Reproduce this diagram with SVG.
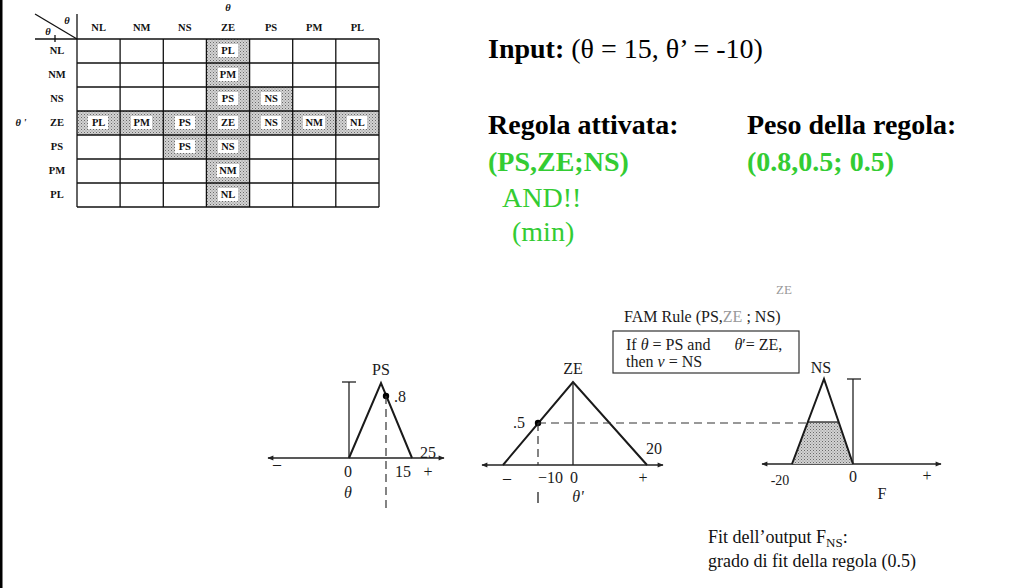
<svg xmlns="http://www.w3.org/2000/svg" width="1019" height="588" viewBox="0 0 1019 588">
<style>
.tb{font-family:"Liberation Serif",serif;font-weight:bold;font-size:10.5px;fill:#111;text-anchor:middle}
.gl{fill:none;stroke:#111;stroke-width:1.3}
.ax{fill:none;stroke:#222;stroke-width:1.3}
.tri{fill:none;stroke:#1a1a1a;stroke-width:2}
.dash{fill:none;stroke:#333;stroke-width:1.2;stroke-dasharray:8,5}
.g{font-family:"Liberation Serif",serif;font-size:16px;fill:#1a1a1a}
.fam{font-family:"Liberation Serif",serif;font-size:16px;fill:#1a1a1a}
.big{font-family:"Liberation Serif",serif;font-size:28px;fill:#000}
.grn{font-family:"Liberation Serif",serif;font-size:28px;fill:#33cc33}
.note{font-family:"Liberation Serif",serif;font-size:18px;fill:#111}
.lab{fill:#fff}
</style>
<defs>
<pattern id="stip" width="3" height="3" patternUnits="userSpaceOnUse">
<rect width="3" height="3" fill="#d2d2d2"/>
<rect x="0" y="0" width="1" height="1" fill="#6a6a6a"/>
<rect x="1.5" y="1.5" width="1" height="1" fill="#8a8a8a"/>
</pattern>
<marker id="arr" viewBox="0 0 10 10" refX="9" refY="5" markerWidth="7" markerHeight="6" orient="auto-start-reverse" markerUnits="userSpaceOnUse">
<path d="M0,1 L10,5 L0,9 z" fill="#222"/>
</marker>
</defs>
<rect x="0" y="0" width="2.5" height="588" fill="#000"/>

<g id="fam-table">
<rect x="206.4" y="39" width="43.14" height="168" fill="url(#stip)"/>
<rect x="77" y="111" width="302" height="24" fill="url(#stip)"/>
<rect x="249.6" y="87" width="43.14" height="24" fill="url(#stip)"/>
<rect x="163.3" y="135" width="43.14" height="24" fill="url(#stip)"/>
<g class="gl">
<line x1="35" y1="39" x2="379" y2="39"/>
<line x1="77" y1="14" x2="77" y2="207"/>
<line x1="35" y1="14" x2="77" y2="39"/>
<line x1="55" y1="35" x2="55" y2="42"/>
<line x1="120.1" y1="39" x2="120.1" y2="207"/>
<line x1="163.3" y1="39" x2="163.3" y2="207"/>
<line x1="206.4" y1="39" x2="206.4" y2="207"/>
<line x1="249.6" y1="39" x2="249.6" y2="207"/>
<line x1="292.7" y1="39" x2="292.7" y2="207"/>
<line x1="335.8" y1="39" x2="335.8" y2="207"/>
<line x1="379" y1="39" x2="379" y2="207"/>
<line x1="77" y1="63" x2="379" y2="63"/>
<line x1="77" y1="87" x2="379" y2="87"/>
<line x1="77" y1="111" x2="379" y2="111"/>
<line x1="77" y1="135" x2="379" y2="135"/>
<line x1="77" y1="159" x2="379" y2="159"/>
<line x1="77" y1="183" x2="379" y2="183"/>
<line x1="77" y1="207" x2="379" y2="207"/>
</g>
<g class="lab">
<rect x="218" y="44" width="20" height="13"/>
<rect x="218" y="68" width="20" height="13"/>
<rect x="218" y="92" width="20" height="13"/>
<rect x="261" y="92" width="20" height="13"/>
<rect x="88" y="116" width="20" height="13"/>
<rect x="131" y="116" width="21" height="13"/>
<rect x="175" y="116" width="20" height="13"/>
<rect x="218" y="116" width="20" height="13"/>
<rect x="261" y="116" width="20" height="13"/>
<rect x="303" y="116" width="22" height="13"/>
<rect x="347" y="116" width="20" height="13"/>
<rect x="175" y="140" width="20" height="13"/>
<rect x="218" y="140" width="20" height="13"/>
<rect x="217" y="164" width="22" height="13"/>
<rect x="218" y="188" width="20" height="13"/>
</g>
<text class="tb" x="228" y="11" font-style="italic">θ</text>
<text class="tb" x="67" y="24" font-style="italic">θ</text>
<text class="tb" x="48" y="35" font-style="italic">θ</text>
<text class="tb" x="21" y="126" font-style="italic">θ '</text>
<text class="tb" x="98.6" y="31">NL</text>
<text class="tb" x="141.7" y="31">NM</text>
<text class="tb" x="184.8" y="31">NS</text>
<text class="tb" x="228" y="31">ZE</text>
<text class="tb" x="271.1" y="31">PS</text>
<text class="tb" x="314.2" y="31">PM</text>
<text class="tb" x="357.4" y="31">PL</text>
<text class="tb" x="57" y="54">NL</text>
<text class="tb" x="57" y="78">NM</text>
<text class="tb" x="57" y="102">NS</text>
<text class="tb" x="57" y="126">ZE</text>
<text class="tb" x="57" y="150">PS</text>
<text class="tb" x="57" y="174">PM</text>
<text class="tb" x="57" y="198">PL</text>
<text class="tb" x="228" y="54">PL</text>
<text class="tb" x="228" y="78">PM</text>
<text class="tb" x="228" y="102">PS</text>
<text class="tb" x="271.1" y="102">NS</text>
<text class="tb" x="98.6" y="126">PL</text>
<text class="tb" x="141.7" y="126">PM</text>
<text class="tb" x="184.8" y="126">PS</text>
<text class="tb" x="228" y="126">ZE</text>
<text class="tb" x="271.1" y="126">NS</text>
<text class="tb" x="314.2" y="126">NM</text>
<text class="tb" x="357.4" y="126">NL</text>
<text class="tb" x="184.8" y="150">PS</text>
<text class="tb" x="228" y="150">NS</text>
<text class="tb" x="228" y="174">NM</text>
<text class="tb" x="228" y="198">NL</text>
</g>

<g id="input-text">
<text class="big" x="488" y="58"><tspan font-weight="bold">Input:</tspan> (θ = 15, θ’ = -10)</text>
</g>
<g id="rule-text">
<text class="big" x="488" y="134" font-weight="bold">Regola attivata:</text>
<text class="grn" x="488" y="171" font-weight="bold">(PS,ZE;NS)</text>
<text class="grn" x="502" y="207">AND!!</text>
<text class="grn" x="512" y="241">(min)</text>
</g>
<g id="weight-text">
<text class="big" x="747" y="134" font-weight="bold">Peso della regola:</text>
<text class="grn" x="747" y="171" font-weight="bold">(0.8,0.5; 0.5)</text>
</g>

<g id="ps-graph">
<line class="ax" x1="268" y1="458" x2="444" y2="458" marker-start="url(#arr)" marker-end="url(#arr)"/>
<line class="ax" x1="349" y1="382" x2="349" y2="458"/>
<line class="ax" x1="342" y1="382" x2="356" y2="382"/>
<polyline class="tri" points="349,458 381,383 412,458"/>
<circle cx="386" cy="396" r="3.2" fill="#000"/>
<text class="g" x="381" y="375" text-anchor="middle">PS</text>
<text class="g" x="394" y="402">.8</text>
<text class="g" x="428" y="458" text-anchor="middle">25</text>
<text class="g" x="277" y="469" text-anchor="middle">–</text>
<text class="g" x="348" y="477" text-anchor="middle">0</text>
<text class="g" x="403" y="477" text-anchor="middle">15</text>
<text class="g" x="428" y="477" text-anchor="middle">+</text>
<text class="g" x="348" y="498" text-anchor="middle" font-style="italic">θ</text>
</g>

<g id="ze-graph">
<line class="ax" x1="482" y1="465" x2="663" y2="465" marker-start="url(#arr)" marker-end="url(#arr)"/>
<polyline class="tri" points="503,465 573,382 647,465"/>
<line class="ax" x1="573" y1="382" x2="573" y2="465"/>
<circle cx="538" cy="423" r="3.2" fill="#000"/>
<text class="g" x="573" y="374" text-anchor="middle">ZE</text>
<text class="g" x="519" y="428" text-anchor="middle">.5</text>
<text class="g" x="654" y="454" text-anchor="middle">20</text>
<text class="g" x="507" y="483" text-anchor="middle">–</text>
<text class="g" x="563" y="483" text-anchor="end">−10</text>
<text class="g" x="574" y="483" text-anchor="middle">0</text>
<text class="g" x="643" y="483" text-anchor="middle">+</text>
<text class="g" x="578" y="502" text-anchor="middle" font-style="italic">θʹ</text>
</g>

<g id="fam-rule-box">
<text class="fam" x="624" y="322">FAM Rule (PS,<tspan fill="#999">ZE</tspan> ; NS)</text>
<rect x="613" y="331" width="186" height="42" fill="none" stroke="#333" stroke-width="1.2"/>
<text class="fam" x="626" y="350">If <tspan font-style="italic">θ</tspan> = PS and <tspan dx="20" font-style="italic">θ</tspan>ʹ= ZE,</text>
<text class="fam" x="626" y="367">then <tspan font-style="italic">ν</tspan> = NS</text>
<text x="784" y="294" font-family="Liberation Serif, serif" font-size="13" fill="#999" text-anchor="middle">ZE</text>
</g>

<g id="ns-graph">
<line class="ax" x1="762" y1="464" x2="941" y2="464" marker-start="url(#arr)" marker-end="url(#arr)"/>
<polygon points="792,464 808,422 838,422 853,464" fill="url(#stip)" stroke="none"/>
<line class="ax" x1="808" y1="422" x2="838" y2="422"/>
<polyline class="tri" points="792,464 824,379 853,464"/>
<line class="ax" x1="853" y1="379" x2="853" y2="464"/>
<line class="ax" x1="847" y1="379" x2="861" y2="379"/>
<text class="g" x="821" y="373" text-anchor="middle">NS</text>
<text x="780" y="485" font-family="Liberation Serif, serif" font-size="14" fill="#1a1a1a" text-anchor="middle">-20</text>
<text class="g" x="853" y="482" text-anchor="middle">0</text>
<text class="g" x="927" y="481" text-anchor="middle">+</text>
<text class="g" x="882" y="499" text-anchor="middle">F</text>
</g>

<g id="connectors">
<line class="dash" x1="386" y1="396" x2="386" y2="508"/>
<line class="dash" x1="538" y1="423" x2="808" y2="423"/>
<line class="dash" x1="538" y1="423" x2="538" y2="465"/>
<line class="ax" x1="538" y1="492" x2="538" y2="503"/>
</g>

<g id="fit-note">
<text class="note" x="708" y="543">Fit dell’output F<tspan font-size="13" dy="4">NS</tspan><tspan dy="-4">:</tspan></text>
<text class="note" x="708" y="567">grado di fit della regola (0.5)</text>
</g>
</svg>
